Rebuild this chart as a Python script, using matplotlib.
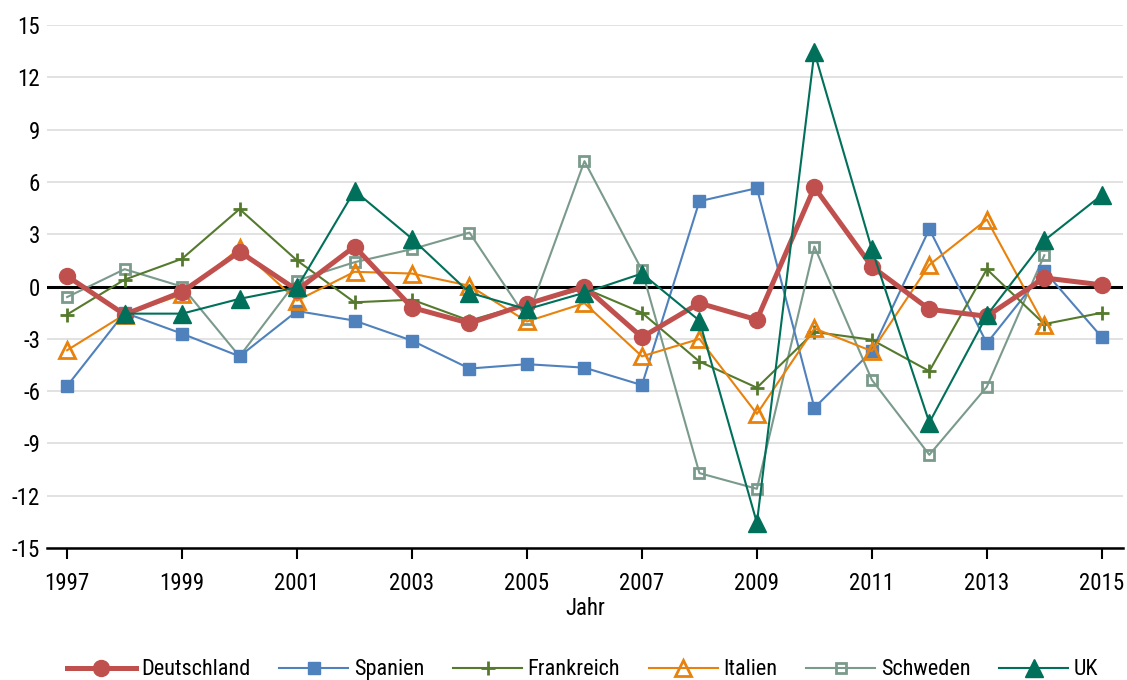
import numpy as np
import matplotlib
matplotlib.use("Agg")
import matplotlib.pyplot as plt
from matplotlib import font_manager

# Condensed sans face for all text
names = {f.name for f in font_manager.fontManager.ttflist}
family = next((n for n in ("Roboto Condensed", "Archivo Narrow", "PT Sans Narrow") if n in names),
              "DejaVu Sans")
plt.rcParams["font.family"] = [family, "DejaVu Sans"]
plt.rcParams["axes.unicode_minus"] = False

years = list(range(1997, 2016))
nan = np.nan

deutschland = [0.6, -1.6, -0.3, 2.0, -0.2, 2.3, -1.2, -2.1, -1.0, 0.0,
               -2.9, -0.95, -1.9, 5.7, 1.15, -1.3, -1.7, 0.5, 0.1]
spanien = [-5.7, -1.5, -2.7, -4.0, -1.4, -1.95, -3.1, -4.7, -4.45, -4.65,
           -5.65, 4.9, 5.65, -6.95, -3.7, 3.3, -3.25, 0.9, -2.9]
frankreich = [-1.6, 0.4, 1.6, 4.45, 1.5, -0.9, -0.75, -1.95, -1.0, -0.1,
              -1.5, -4.3, -5.8, -2.6, -3.05, -4.85, 1.0, -2.15, -1.5]
italien = [-3.65, -1.6, -0.45, 2.2, -0.8, 0.85, 0.75, 0.05, -2.0, -0.95,
           -4.0, -3.0, -7.3, -2.4, -3.7, 1.25, 3.85, -2.2, nan]
schweden = [-0.6, 1.0, 0.0, -4.0, 0.35, 1.4, 2.15, 3.1, -1.85, 7.2,
            0.95, -10.7, -11.6, 2.3, -5.35, -9.65, -5.75, 1.8, nan]
uk = [nan, -1.55, -1.55, -0.7, -0.05, 5.5, 2.75, -0.35, -1.3, -0.35,
      0.75, -1.95, -13.55, 13.45, 2.15, -7.8, -1.65, 2.65, 5.25]

series = [
    ("Deutschland", deutschland, dict(color="#C0504D", lw=3.6, marker="o", ms=11.5,
                                      mfc="#C0504D", mec="#C0504D", zorder=6)),
    ("Spanien", spanien, dict(color="#4F81BD", lw=1.5, marker="s", ms=8,
                              mfc="#4F81BD", mec="#4F81BD", zorder=3)),
    ("Frankreich", frankreich, dict(color="#557A2D", lw=1.5, marker="+", ms=10,
                                    mew=2, zorder=4)),
    ("Italien", italien, dict(color="#E8820C", lw=1.5, marker="^", ms=11,
                              mfc="none", mec="#E8820C", mew=2, zorder=5)),
    ("Schweden", schweden, dict(color="#7A9A8C", lw=1.5, marker="s", ms=7.5,
                                mfc="none", mec="#7A9A8C", mew=2, zorder=2)),
    ("UK", uk, dict(color="#00705A", lw=1.5, marker="^", ms=12.5,
                    mfc="#00705A", mec="#00705A", zorder=7)),
]

fig = plt.figure(figsize=(11.27, 6.8), dpi=100)
ax = fig.add_axes([0.0417, 0.194, 0.9548, 0.769])

for label, vals, style in series:
    ax.plot(years, vals, label=label, **style)

ax.axhline(0, color="black", lw=2.2, zorder=1.5)

ax.set_xlim(1996.65, 2015.37)
ax.set_ylim(-15, 15)
ax.set_yticks(np.arange(-15, 16, 3))
ax.set_xticks(range(1997, 2016, 2))
ax.grid(axis="y", color="#DDDDDD", lw=1.2, zorder=0)
ax.set_axisbelow(True)

for s in ("top", "right", "left"):
    ax.spines[s].set_visible(False)
ax.spines["bottom"].set_linewidth(1.8)
ax.spines["bottom"].set_color("black")
ax.tick_params(axis="y", length=0, pad=5, labelsize=16.5)
ax.tick_params(axis="x", length=8, width=1.5, direction="out", pad=9, labelsize=16.5)

ax.set_xlabel("Jahr", fontsize=16.5, labelpad=2)

fig.legend(*ax.get_legend_handles_labels(), loc="center", bbox_to_anchor=(0.517, 0.015),
           ncol=6, frameon=False, fontsize=16, handlelength=3.1, columnspacing=1.3,
           handletextpad=0.25, borderpad=0)

fig.savefig("out.png", dpi=100)
